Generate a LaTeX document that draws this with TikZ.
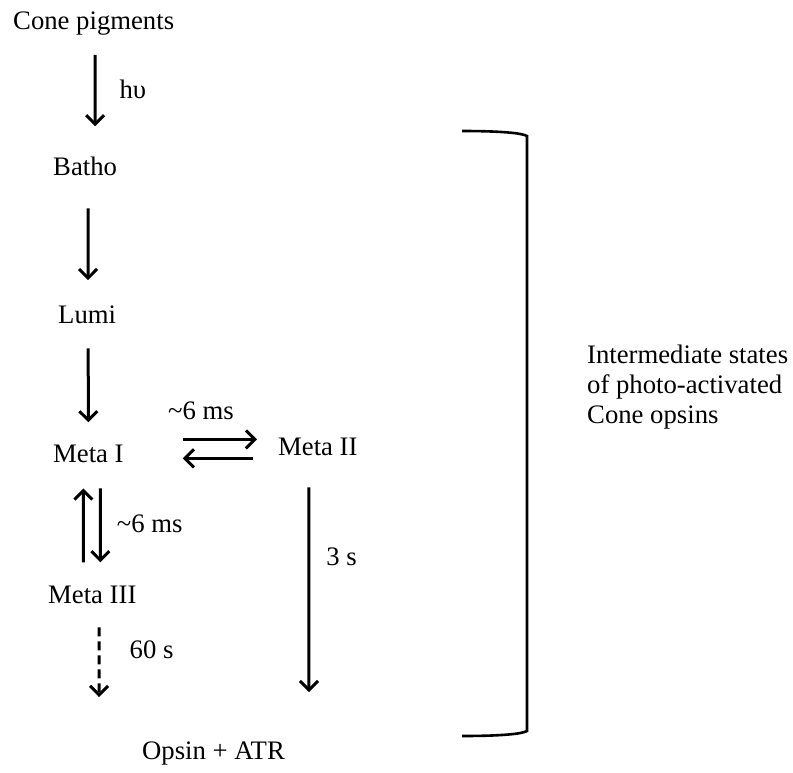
\documentclass[tikz,border=0pt]{standalone}
\usepackage{fontspec}
\setmainfont{Liberation Serif}
\usetikzlibrary{arrows.meta}
\newcommand{\diagfont}{\fontsize{26.7}{30}\selectfont}
\tikzset{
  state/.style={inner sep=0pt, anchor=base west, font=\diagfont},
  rate/.style={inner sep=0pt, font=\diagfont},
  flow/.style={line width=3pt, -{Straight Barb[length=9pt,width=18pt]}},
}
\begin{document}
\begin{tikzpicture}[x=1pt,y=-1pt]
            \useasboundingbox (0,0) rectangle (793,772);

            % States
            \node[state] (cone) at (13,29) {Cone pigments};
            \node[state] (batho) at (53,175) {Batho};
            \node[state] (lumi) at (58,323) {Lumi};
            \node[state] (meta1) at (53,462) {Meta I};
            \node[state] (meta2) at (278,455) {Meta II};
            \node[state] (meta3) at (48,603) {Meta III};
            \node[state] (atr) at (142,759) {Opsin + ATR};
            \coordinate (end3) at (99,697);
            \coordinate (end2) at (309,692);

            % Main pathway
            \draw[flow, shorten <=20pt, shorten >=30pt] ([xshift=1.5pt]cone.south) -- ([xshift=10pt]batho.north)
                node[rate, pos=0.45, right=23pt] {hυ};
            \draw[flow, shorten <=33pt, shorten >=25pt] ([xshift=3pt]batho.south) -- ([xshift=1pt]lumi.north);
            \draw[flow, shorten <=25pt, shorten >=22pt] ([xshift=1pt]lumi.south) -- (meta1.north);

            % Meta I <-> Meta II
            \draw[flow, shorten <=59pt, shorten >=21pt] ([yshift=14pt]meta1.east) -- ([yshift=7pt]meta2.west)
                node[rate, midway, above=18pt] {\textasciitilde6 ms};
            \draw[flow, shorten <=25pt, shorten >=59pt] ([yshift=-12pt]meta2.west) -- ([yshift=-5pt]meta1.east);

            % Meta I <-> Meta III
            \draw[flow, shorten <=23pt, shorten >=26pt] ([xshift=-9pt]meta3.north) -- ([xshift=-5pt]meta1.south);
            \draw[flow, shorten <=26pt, shorten >=23pt] ([xshift=12pt]meta1.south) -- ([xshift=8pt]meta3.north)
                node[rate, midway, right=15pt] {\textasciitilde6 ms};

            % Decay to opsin
            \draw[flow, dash pattern=on 9pt off 5pt, shorten <=24pt] ([xshift=7pt]meta3.south) -- (end3)
                node[rate, midway, right=29pt] {60 s};
            \draw[flow, shorten <=32pt] ([xshift=-9pt]meta2.south) -- (end2)
                node[rate, pos=0.43, right=16pt] {3 s};

            % Bracket
            \draw[line width=2.6pt] (462,131) .. controls (500,131) and (522,133) .. (527,136)
                -- (527,731) .. controls (522,734) and (500,736) .. (462,736);
            \node[inner sep=0pt, anchor=north west, align=left, font=\diagfont] (note) at (587,344.5)
                {Intermediate states\\of photo-activated\\Cone opsins};
\end{tikzpicture}
\end{document}
